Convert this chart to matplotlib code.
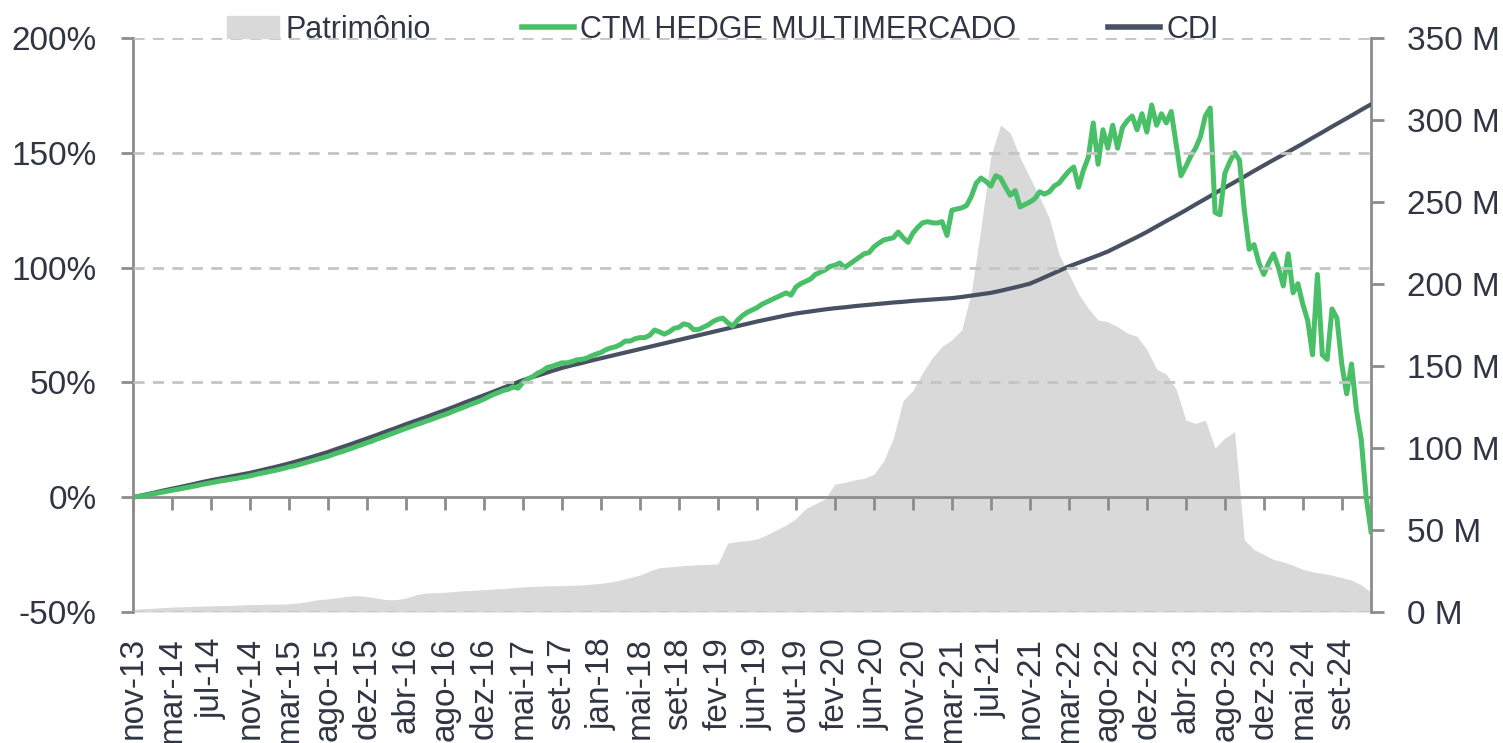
import numpy as np
import matplotlib
matplotlib.use("Agg")
import matplotlib.pyplot as plt
from matplotlib.patches import Patch
from matplotlib.lines import Line2D

# rótulos do eixo x (um a cada 4 pontos da série)
meses = ["nov-13", "mar-14", "jul-14", "nov-14", "mar-15", "ago-15", "dez-15", "abr-16",
         "ago-16", "dez-16", "mai-17", "set-17", "jan-18", "mai-18", "set-18", "fev-19",
         "jun-19", "out-19", "fev-20", "jun-20", "nov-20", "mar-21", "jul-21", "nov-21",
         "mar-22", "ago-22", "dez-22", "abr-23", "ago-23", "dez-23", "mai-24", "set-24"]

# rentabilidade acumulada do fundo (%), dois pontos por passo da série do CDI
ctm = [0, 0.3, 0.6, 1.0, 1.4, 1.8, 2.2, 2.6, 3.0, 3.4, 3.8, 4.2, 4.6, 5.0, 5.5, 5.9,
       6.3, 6.7, 7.1, 7.4, 7.8, 8.1, 8.5, 8.9, 9.3, 9.8, 10.3, 10.7, 11.2, 11.6, 12.1, 12.6,
       13.2, 13.6, 14.2, 14.8, 15.4, 16.0, 16.6, 17.2, 17.8, 18.6, 19.3, 19.9, 20.7, 21.4, 22.2, 22.9,
       23.7, 24.4, 25.3, 26.0, 26.8, 27.6, 28.4, 29.2, 30.0, 30.7, 31.5, 32.2, 33.0, 33.7, 34.5, 35.3,
       36.0, 36.8, 37.7, 38.5, 39.3, 40.2, 41.0, 41.8, 42.7, 43.8, 44.8, 45.6, 46.5, 47.0, 48.0, 47.5,
       50.0, 51.5, 52.5, 54.0, 55.0, 56.5, 57.0, 57.8, 58.5, 58.5, 59.0, 59.8, 60.0, 60.5, 61.5, 62.3,
       63.0, 64.2, 65.0, 65.5, 66.5, 68.0, 68.0, 69.0, 69.5, 69.5, 70.5, 72.8, 72.0, 71.0, 72.0, 73.5,
       74.0, 75.5, 75.0, 73.0, 73.0, 74.0, 75.0, 76.5, 77.5, 78.0, 76.0, 74.5, 77.0, 79.0, 80.5, 81.5,
       82.5, 84.0, 85.0, 86.0, 87.0, 88.0, 89.0, 88.0, 91.5, 93.0, 94.0, 95.0, 97.0, 98.0, 99.0, 100.5,
       101.0, 102.0, 100.0, 101.5, 103.0, 104.5, 106.0, 106.5, 109, 110.6, 112, 112.5, 113, 115.5, 113, 111,
       115, 117.5, 119.5, 120, 119.5, 119.4, 120, 114, 125, 125.5, 126, 127, 131, 136.8, 139, 137.5,
       135.5, 140, 139, 135, 131.5, 133.5, 126.4, 127.5, 128.5, 130, 133, 132, 133, 135.5, 136.8, 139.5,
       142, 143.8, 135, 142.5, 148, 163, 145, 160, 152, 162, 152, 161, 164, 166, 160, 167,
       159, 170.8, 162, 167, 163, 168, 154, 140, 144, 148.5, 152, 157, 166, 169.5, 124, 123,
       141, 146, 150, 146.8, 125, 108, 110, 102, 97, 102, 106, 100, 92, 106, 89, 93,
       84, 77, 62, 97, 62, 60, 82, 78, 58, 45, 58, 38, 25, 0, -15]

# CDI acumulado (%)
cdi = [0, 0.9, 1.8, 2.8, 3.7, 4.6, 5.5, 6.5, 7.4, 8.2, 9.0, 9.8, 10.6, 11.6, 12.6, 13.6,
       14.7, 15.9, 17.1, 18.4, 19.7, 21.2, 22.6, 24.1, 25.6, 27.1, 28.7, 30.2, 31.8, 33.3, 34.8, 36.4,
       37.9, 39.5, 41.2, 42.8, 44.4, 46.0, 47.7, 49.3, 51.0, 52.3, 53.6, 55.0, 56.3, 57.4, 58.4, 59.5,
       60.5, 61.5, 62.5, 63.5, 64.5, 65.5, 66.5, 67.5, 68.5, 69.5, 70.5, 71.5, 72.5, 73.5, 74.5, 75.5,
       76.5, 77.4, 78.3, 79.2, 80.0, 80.6, 81.2, 81.8, 82.3, 82.7, 83.2, 83.6, 84.0, 84.4, 84.8, 85.1,
       85.5, 85.8, 86.1, 86.4, 86.7, 87.2, 87.8, 88.4, 89.0, 89.9, 90.9, 91.9, 93.0, 94.8, 96.7, 98.6,
       100.5, 102.1, 103.7, 105.3, 107.0, 109.1, 111.2, 113.3, 115.5, 117.9, 120.3, 122.6,
       125.0, 127.5, 129.9, 132.4, 134.8, 137.2, 139.6, 142.1, 144.5, 146.9, 149.2, 151.6,
       154.0, 156.5, 158.9, 161.4, 163.8, 166.2, 168.7, 171.1]

# patrimônio líquido (R$ milhões)
patrimonio = [1.5, 2, 2.3, 2.6, 3, 3.2, 3.4, 3.6, 3.8, 3.9, 4, 4.3, 4.5, 4.6, 4.8, 4.8,
              5, 5.5, 6.5, 7.5, 8, 8.8, 9.5, 10, 9.5, 8.5, 7.5, 7.5, 8.5, 10.5, 11.5, 11.8,
              12, 12.5, 13, 13.3, 13.6, 14, 14.3, 14.8, 15.3, 15.6, 15.8, 16, 16, 16.3, 16.5, 17,
              17.5, 18.3, 19.5, 21, 22.5, 25, 27, 27.5, 28, 28.5, 28.8, 29, 29.3, 42, 43, 43.5,
              44.5, 47, 50, 53, 57, 63, 66, 69, 78, 79, 80.5, 81.5, 84, 92, 106, 129,
              135, 146, 155, 162, 166, 172, 195, 235, 278, 297, 292, 277, 265, 253, 240, 218,
              206, 194, 185, 178, 177, 174, 170, 168, 160, 148, 145, 136, 117, 115, 117, 100,
              106, 110, 44, 38, 35, 32, 30.5, 28.5, 26, 24.5, 23.5, 22.5, 21, 19.5, 16.5, 12]

texto = "#2f3542"
cinza = "#8c8c8c"
plt.rcParams["font.family"] = ["Liberation Sans", "DejaVu Sans"]
plt.rcParams["font.size"] = 24
plt.rcParams["text.color"] = texto

x = np.arange(len(cdi))
x_ctm = np.arange(len(ctm)) / 2

fig = plt.figure(figsize=(15.03, 7.43), dpi=100)
ax = fig.add_axes([0.0885, 0.1763, 0.8237, 0.7726])
ax2 = ax.twinx()

ax2.fill_between(x, 0, patrimonio, color="#d9d9d9", linewidth=0)
ax2.set_ylim(0, 350)
ax2.set_yticks(np.arange(0, 351, 50))
ax2.set_yticklabels([f"{v} M" for v in range(0, 351, 50)])

ax.plot(x, cdi, color="#475161", lw=3.0, solid_capstyle="round")
ax.plot(x_ctm, ctm, color="#49bf67", lw=3.6, solid_joinstyle="round")
ax.set_ylim(-50, 200)
ax.set_yticks(np.arange(-50, 201, 50))
ax.set_yticklabels([f"{v}%" for v in range(-50, 201, 50)])
ax.set_xlim(0, len(cdi) - 1)
ax.grid(axis="y", color="#c4c4c4", linestyle=(0, (4, 3)), linewidth=2)
ax.get_ygridlines()[1].set_visible(False)
ax.set_axisbelow(False)

ax.set_zorder(ax2.get_zorder() + 1)
ax.patch.set_visible(False)

pos = np.arange(0, len(cdi), 4)
ax.set_xticks(pos)
ax.set_xticklabels(meses, rotation=90, va="top", ha="center")
ax.tick_params(axis="x", length=0, pad=18, colors=texto)

# linha do zero com as marcas do eixo x
eixo0 = ax.secondary_xaxis(0.2)
eixo0.set_xticks(pos)
eixo0.tick_params(axis="x", length=9, width=2, color=cinza, labelbottom=False)
eixo0.spines["bottom"].set_color(cinza)
eixo0.spines["bottom"].set_linewidth(2)

for a in (ax, ax2):
    for s in ("top", "bottom"):
        a.spines[s].set_visible(False)
ax.spines["left"].set_color(cinza)
ax.spines["left"].set_linewidth(2)
ax2.spines["right"].set_color(cinza)
ax2.spines["right"].set_linewidth(2)
ax2.spines["left"].set_visible(False)
ax.spines["right"].set_visible(False)
ax.tick_params(axis="y", length=9, width=2, color=cinza, pad=17, labelcolor=texto)
ax2.tick_params(axis="y", length=9, width=2, color=cinza, pad=17, labelcolor=texto)

handles = [Patch(color="#d9d9d9"),
           Line2D([], [], color="#49bf67", lw=4),
           Line2D([], [], color="#475161", lw=4)]
fig.legend(handles, ["Patrimônio", "CTM HEDGE MULTIMERCADO", "CDI"],
           loc="center", bbox_to_anchor=(0.481, 0.960), ncol=3, frameon=False,
           handlelength=1.7, handletextpad=0.2, columnspacing=3.0, fontsize=22)

fig.savefig("out.png", dpi=100)
